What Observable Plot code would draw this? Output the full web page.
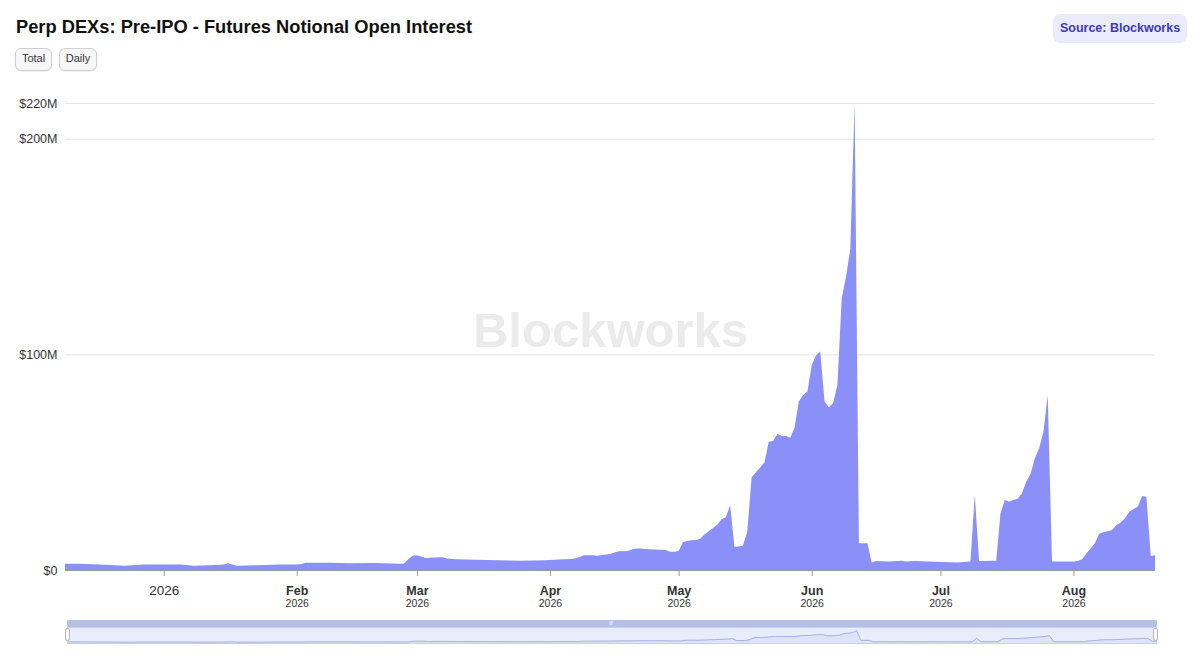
<!DOCTYPE html>
<html>
<head>
<meta charset="utf-8">
<script src="https://cdn.jsdelivr.net/npm/d3@7"></script>
<script src="https://cdn.jsdelivr.net/npm/@observablehq/plot@0.6"></script>
<style>
  html, body { margin: 0; padding: 0; background: #fff; }
  body { font-family: "Liberation Sans", Arial, Helvetica, sans-serif; }
  #wrap { position: relative; width: 1200px; height: 660px; overflow: hidden; }
  #title { position: absolute; left: 16px; top: 16px; font-size: 18.3px; font-weight: bold; color: #111; }
  .btn { position: absolute; top: 48px; height: 23px; border: 1px solid #cfcfcf; border-radius: 6px; background: #f7f7f7;
         font-size: 11px; color: #333; box-sizing: border-box; text-align: center; line-height: 18px; box-shadow: 0 1px 1px rgba(0,0,0,0.06); }
  #source { position: absolute; left: 1053px; top: 14px; width: 134px; height: 29px; border-radius: 7px; background: #ebebfb;
            color: #3b3bb3; font-size: 12.5px; font-weight: bold; text-align: center; line-height: 29px; }
  #chart { position: absolute; left: 0; top: 80px; }
  #navbar { position: absolute; left: 67px; top: 620px; width: 1090px; height: 7px; background: #b4c0e4; border-radius: 1px; }
  #grip { position: absolute; left: 609px; top: 621px; font-size: 6px; color: #eef; line-height: 5px; letter-spacing: -0.5px; }
  #navbody { position: absolute; left: 67px; top: 627px; width: 1090px; height: 17px; background: #e8edfb; border: 1px solid #c6cfec; box-sizing: border-box; }
  #nav { position: absolute; left: 68px; top: 628px; }
  .handle { position: absolute; top: 628px; width: 5px; height: 13px; background: #f7f7f7; border: 1px solid #b9b9b9; border-radius: 2px; box-sizing: border-box; }
</style>
</head>
<body>
<div id="wrap">
  <div id="title">Perp DEXs: Pre-IPO - Futures Notional Open Interest</div>
  <div class="btn" style="left:15px;width:37px;">Total</div>
  <div class="btn" style="left:59px;width:38px;">Daily</div>
  <div id="source">Source: Blockworks</div>
  <div id="chart"></div>
  <div id="navbar"></div>
  <div id="grip">III</div>
  <div id="navbody"></div>
  <div id="nav"></div>
  <div class="handle" style="left:65px;"></div>
  <div class="handle" style="left:1153px;"></div>
</div>
<script>
// ---- Data (open interest in $M) ----
const dates = [
  "2025-12-09","2025-12-12","2025-12-17","2025-12-23","2025-12-27","2025-12-31",
  "2026-01-05","2026-01-08","2026-01-13","2026-01-15","2026-01-16","2026-01-18","2026-01-23","2026-01-28","2026-01-31",
  "2026-02-02","2026-02-03","2026-02-09","2026-02-13","2026-02-19","2026-02-25","2026-02-26","2026-02-27","2026-02-28",
  "2026-03-01","2026-03-02","2026-03-03","2026-03-05","2026-03-07","2026-03-08","2026-03-10","2026-03-17","2026-03-25","2026-03-31",
  "2026-04-03","2026-04-06","2026-04-07","2026-04-09","2026-04-11","2026-04-12","2026-04-14","2026-04-15","2026-04-17","2026-04-19",
  "2026-04-21","2026-04-22","2026-04-24","2026-04-28","2026-04-29","2026-04-30",
  "2026-05-01","2026-05-02","2026-05-03","2026-05-04","2026-05-05","2026-05-06","2026-05-07","2026-05-08","2026-05-09","2026-05-10",
  "2026-05-11","2026-05-12","2026-05-13","2026-05-14","2026-05-15","2026-05-16","2026-05-17","2026-05-18","2026-05-19","2026-05-20",
  "2026-05-21","2026-05-22","2026-05-23","2026-05-24","2026-05-25","2026-05-26","2026-05-27","2026-05-28","2026-05-29","2026-05-30","2026-05-31",
  "2026-06-01","2026-06-02","2026-06-03","2026-06-04","2026-06-05","2026-06-06","2026-06-07","2026-06-08","2026-06-09","2026-06-10",
  "2026-06-11","2026-06-12","2026-06-13","2026-06-14","2026-06-15","2026-06-16","2026-06-19","2026-06-22","2026-06-23","2026-06-25","2026-06-28",
  "2026-07-01","2026-07-05","2026-07-08","2026-07-09","2026-07-10","2026-07-14","2026-07-15","2026-07-16","2026-07-17","2026-07-18",
  "2026-07-19","2026-07-20","2026-07-21","2026-07-22","2026-07-23","2026-07-24","2026-07-25","2026-07-26","2026-07-27","2026-07-31",
  "2026-08-01","2026-08-02","2026-08-03","2026-08-04","2026-08-05","2026-08-06","2026-08-07","2026-08-08","2026-08-09","2026-08-10",
  "2026-08-11","2026-08-12","2026-08-13","2026-08-14","2026-08-15","2026-08-16","2026-08-17","2026-08-18","2026-08-19","2026-08-20"
];
const oiMillions = [
  2.9,2.9,2.6,2.0,2.6,2.5,
  2.5,2.0,2.3,2.6,3.1,2.0,2.2,2.6,2.6,
  2.7,3.4,3.4,3.1,3.2,2.9,3.0,5.0,6.6,
  6.8,6.3,5.6,5.8,5.9,5.3,5.0,4.6,4.3,4.5,
  4.9,5.1,5.5,6.8,6.8,6.6,7.2,7.4,8.7,8.8,
  10,10,9.6,9.3,8.5,8.5,
  8.8,13.0,13.5,13.8,13.9,14.5,16.5,18,19.5,21,
  23.5,24.5,30,10.8,10.9,11.4,18,43,45.3,47.5,
  50,59.5,59.8,63.1,62.2,62.2,61.3,66,78.2,81.2,82.8,
  95,99.5,101.3,78,75.5,77.5,86,126,136,149,
  216.6,12.4,12.4,12.4,3.4,4.2,3.9,4.3,3.9,4.2,4.0,
  3.7,3.5,4.0,34.8,4.2,4.3,26.3,32.5,31.7,32.5,
  33,35.6,41,44.5,51.8,56.5,64,81.2,3.9,3.9,
  3.9,4.2,5.0,7.7,10,12.5,16.8,17.5,18,18.6,
  20.9,22,24,27,28.3,29.4,34.3,34,6.5,6.8
];
const yTicks = [0, 100, 200, 216.6];
const yTickLabels = ["$0", "$100M", "$200M", "$220M"];
const xTickDates = ["2026-01-01","2026-02-01","2026-03-01","2026-04-01","2026-05-01","2026-06-01","2026-07-01","2026-08-01"];
const xTickMonths = ["2026","Feb","Mar","Apr","May","Jun","Jul","Aug"];
const xTickYears = ["","2026","2026","2026","2026","2026","2026","2026"];

const data = dates.map((d, i) => ({date: new Date(d), value: oiMillions[i]}));
const ticks = xTickDates.map((d, i) => ({date: new Date(d), month: xTickMonths[i], year: xTickYears[i]}));
const xDomain = [data[0].date, data[data.length - 1].date];
const font = "Liberation Sans, Arial, Helvetica, sans-serif";
const fill = "#8b8ff8";

const chart = Plot.plot({
  width: 1200,
  height: 530,
  marginLeft: 65,
  marginRight: 45,
  marginTop: 23,
  marginBottom: 40,
  style: {fontFamily: font, fontSize: "12px", color: "#333", background: "transparent"},
  x: {type: "utc", domain: xDomain},
  y: {domain: [0, 216.6]},
  marks: [
    Plot.gridY({ticks: yTicks.filter(t => t > 0), stroke: "#e6e6e6", strokeOpacity: 1}),
    Plot.text(["Blockworks"], {frameAnchor: "middle", dy: -6, fontSize: 49, fontWeight: "bold", fill: "#ebebeb", fontFamily: font}),
    Plot.areaY(data, {x: "date", y: "value", fill: fill, curve: "linear"}),
    Plot.ruleY([0], {stroke: "#9a9a9a", strokeWidth: 1}),
    Plot.axisY({ticks: yTicks, tickFormat: d => yTickLabels[yTicks.indexOf(d)], tickSize: 0, tickPadding: 8, fontSize: 12.5, fill: "#333", label: null}),
    Plot.axisX({ticks: ticks.map(t => t.date), tickSize: 6, tickFormat: () => "", stroke: "#9a9a9a", label: null}),
    Plot.text(ticks.slice(0, 1), {x: "date", text: "month", frameAnchor: "bottom", dy: 20, fontSize: 13.5, fill: "#333", lineAnchor: "middle"}),
    Plot.text(ticks.slice(1), {x: "date", text: "month", frameAnchor: "bottom", dy: 20, fontSize: 12.5, fontWeight: "bold", fill: "#333", lineAnchor: "middle"}),
    Plot.text(ticks.slice(1), {x: "date", text: "year", frameAnchor: "bottom", dy: 33, fontSize: 10.5, fill: "#333", lineAnchor: "middle"})
  ]
});
document.getElementById("chart").appendChild(chart);

const nav = Plot.plot({
  width: 1088,
  height: 15,
  margin: 0,
  marginTop: 2,
  style: {background: "transparent"},
  x: {type: "utc", domain: xDomain, axis: null},
  y: {domain: [0, 216.6], axis: null},
  marks: [
    Plot.areaY(data, {x: "date", y: d => Math.sqrt(d.value) * 14.7, fill: "#dde4f8", curve: "linear"}),
    Plot.lineY(data, {x: "date", y: d => Math.sqrt(d.value) * 14.7, stroke: "#a3b2e2", strokeWidth: 1, curve: "linear"})
  ]
});
document.getElementById("nav").appendChild(nav);
</script>
</body>
</html>
